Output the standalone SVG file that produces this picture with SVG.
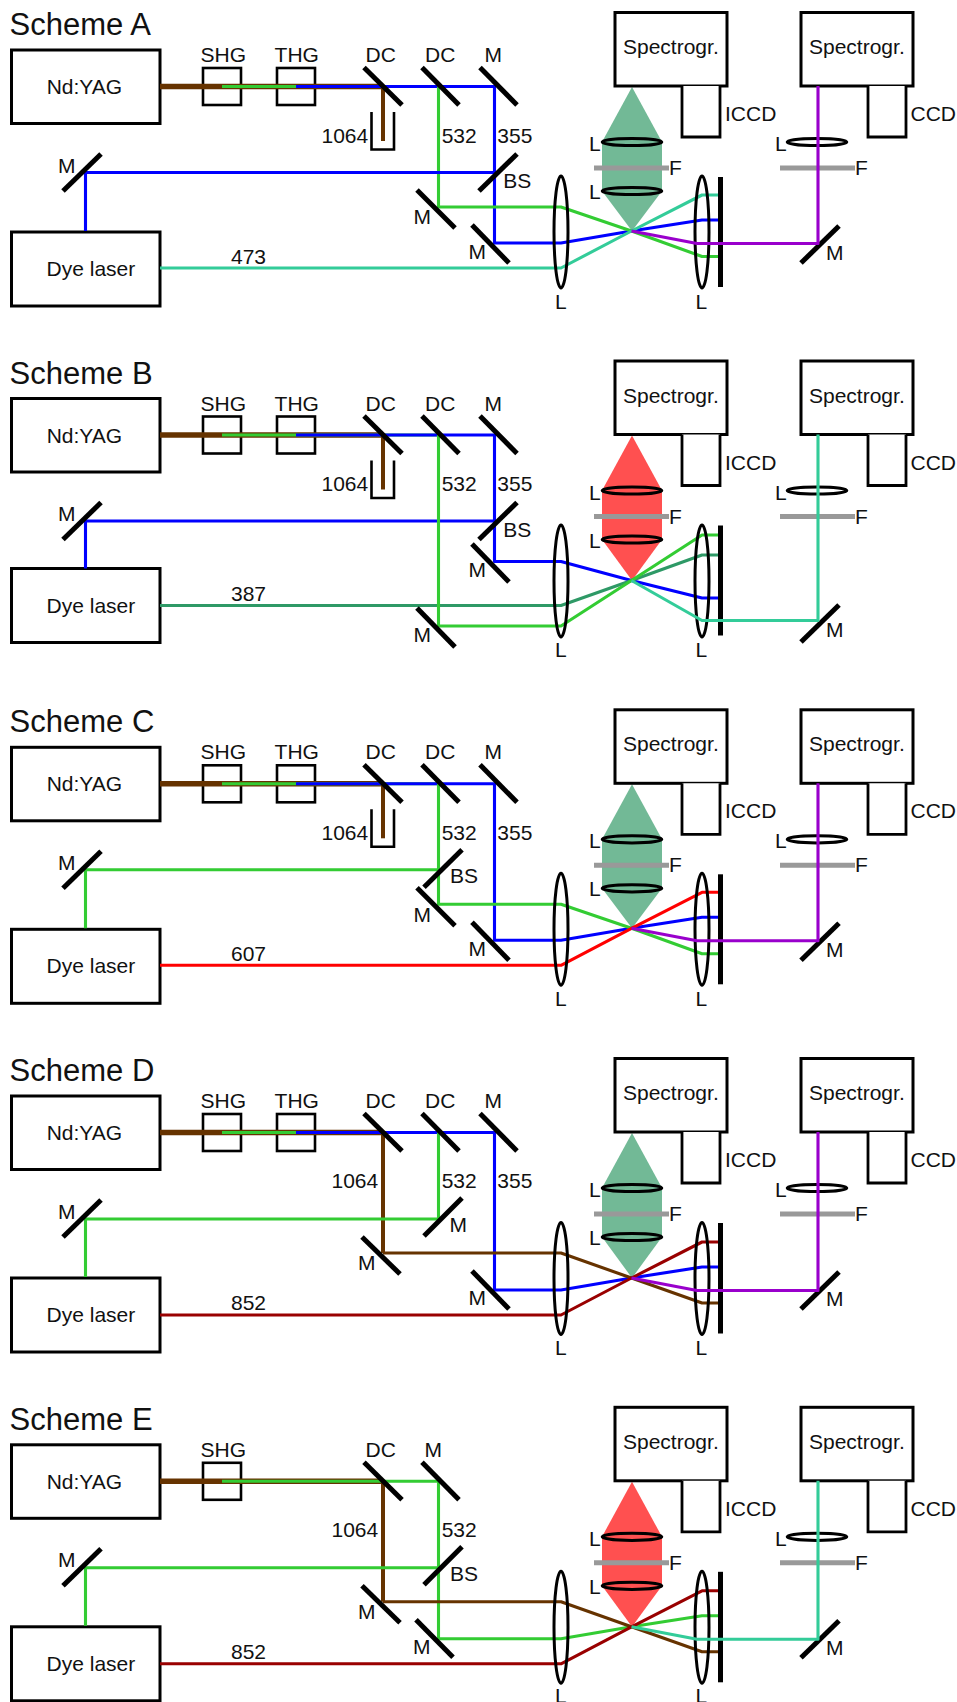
<svg xmlns="http://www.w3.org/2000/svg" width="957" height="1702" viewBox="0 0 957 1702">
<style>
text{font-family:"Liberation Sans",Arial,sans-serif;font-size:21px;fill:#111}
.title{font-size:31px}
.box{fill:#fff;stroke:#000;stroke-width:3}
.crystal{fill:#fff;stroke:#000;stroke-width:2.6}
.cam{fill:#fff;stroke:#000;stroke-width:2.8}
.mirror{stroke:#000;stroke-width:5;fill:none}
.dump{fill:none;stroke:#000;stroke-width:2.6}
.lens{fill:none;stroke:#000;stroke-width:3}
.bar{stroke:#000;stroke-width:5;fill:none}
.filter{stroke:#999;stroke-width:5;fill:none}
.beam{fill:none;stroke-width:3.1;stroke-linejoin:round}
.beam4{fill:none;stroke-width:4}
.thick{fill:none;stroke-width:5.4}
.thin{fill:none;stroke-width:3}
.br{stroke:#663300}.gr{stroke:#33cc33}.bl{stroke:#0000ff}.te{stroke:#33cc99}.dg{stroke:#2e9966}.pu{stroke:#9900cc}.re{stroke:#ff0000}.dr{stroke:#990000}
.cone-g{fill:#72b996}.cone-r{fill:#ff5050}
</style>
<rect width="957" height="1702" fill="#fff"/>

<!-- ===== Scheme A ===== -->
<g id="scheme-a">
<text class="title" x="9.600" y="35">Scheme A</text>
<g id="a-collection"><polygon class="cone-g" points="632,87 662,142 662,191 632,231 602,191 602,142"/></g>
<g id="a-yag"><rect class="box" x="11.5" y="50" width="148.5" height="73.5"/><text x="46.700" y="94">Nd:YAG</text></g>
<g id="a-dye"><rect class="box" x="11.5" y="232" width="148.5" height="74"/><text x="46.600" y="276">Dye laser</text></g>
<g id="a-shg"><rect class="crystal" x="203" y="68" width="38" height="37"/><text x="200.500" y="62">SHG</text></g>
<g id="a-thg"><rect class="crystal" x="277" y="68" width="38" height="37"/><text x="274.600" y="62">THG</text></g>
<g id="a-spec1"><rect class="box" x="615" y="12.500" width="112" height="73.500"/><text x="623" y="54">Spectrogr.</text></g>
<g id="a-spec2"><rect class="box" x="801" y="12.500" width="112" height="73.500"/><text x="809" y="54">Spectrogr.</text></g>
<g id="a-connectors">
<path class="thick br" d="M160 86.5H383"/><path class="thin gr" d="M222 86.5H438"/><path class="thin bl" d="M296 86.5H438"/>
<path class="beam4 br" d="M383 86.5V141"/>
<path class="beam bl" d="M438 86.5H494.5V243H561L631.5 231L702 220H718"/>
<path class="beam gr" d="M438.5 86.5V207H561L631.5 231L702 256.5H718"/>
<path class="beam bl" d="M85.5 231V172.5H494"/>
<path class="beam te" d="M160 268H561L631.5 231L702 195H718"/>
</g>
<g id="a-dc1"><line class="mirror" x1="364" y1="67.500" x2="402" y2="105"/><text x="365.600" y="62">DC</text></g>
<g id="a-dc2"><line class="mirror" x1="422" y1="67.500" x2="459" y2="105"/><text x="425" y="62">DC</text></g>
<g id="a-m1"><line class="mirror" x1="480" y1="67.500" x2="517" y2="105"/><text x="484.500" y="62">M</text></g>
<g id="a-dump"><path class="dump" d="M371.500 112V149.500H394V112"/><text x="321.500" y="142.500">1064</text></g>
<text x="441.700" y="142.500">532</text><text x="497.300" y="142.500">355</text><text x="231" y="264">473</text>
<g id="a-m2"><line class="mirror" x1="63" y1="191" x2="101" y2="154"/><text x="58" y="172.500">M</text></g>
<g id="a-bs"><line class="mirror" x1="479" y1="191" x2="517" y2="154"/><text x="503.300" y="188">BS</text></g>
<g id="a-m3"><line class="mirror" x1="417" y1="190" x2="455" y2="228"/><text x="413.500" y="224">M</text></g>
<g id="a-m4"><line class="mirror" x1="472" y1="225" x2="509" y2="263"/><text x="468.500" y="258.500">M</text></g>
<g id="a-lens1"><ellipse class="lens" cx="561" cy="232" rx="7" ry="56"/><text x="555" y="308.500">L</text></g>
<g id="a-lens2"><ellipse class="lens" cx="702" cy="232" rx="7" ry="56"/><text x="695.500" y="308.500">L</text></g>
<g id="a-det"><line class="bar" x1="720.500" y1="177" x2="720.500" y2="287"/></g>
<g id="a-iccd"><path class="cam" d="M682 86V137H720V86"/><text x="725" y="121">ICCD</text></g>
<g id="a-ccd"><path class="cam" d="M868 86V137H906V86"/><text x="910.500" y="121">CCD</text></g>
<g id="a-l1"><ellipse class="lens" cx="632" cy="142" rx="29.800" ry="3.600"/><text x="589" y="151">L</text></g>
<g id="a-f1"><line class="filter" x1="594" y1="168" x2="669" y2="168"/><text x="669" y="175">F</text></g>
<g id="a-l2"><ellipse class="lens" cx="632" cy="191" rx="29.800" ry="3.600"/><text x="589" y="199">L</text></g>
<g id="a-l3"><ellipse class="lens" cx="817" cy="142" rx="29.800" ry="3.600"/><text x="775" y="151">L</text></g>
<g id="a-f2"><line class="filter" x1="780" y1="168" x2="855" y2="168"/><text x="855" y="175">F</text></g>
<g id="a-m5"><line class="mirror" x1="801" y1="263" x2="839" y2="226"/><text x="826" y="260">M</text></g>
<path id="a-ref" class="beam pu" d="M631.500 231L697 243.500H818V86"/>
</g>

<!-- ===== Scheme B ===== -->
<g id="scheme-b" transform="translate(0,348.5)">
<text class="title" x="9.600" y="35">Scheme B</text>
<g id="b-collection"><polygon class="cone-r" points="632,87 662,142 662,191 632,232 602,191 602,142"/></g>
<g id="b-yag"><rect class="box" x="11.5" y="50" width="148.5" height="73.5"/><text x="46.700" y="94">Nd:YAG</text></g>
<g id="b-dye"><rect class="box" x="11.5" y="220" width="148.5" height="74"/><text x="46.600" y="264.500">Dye laser</text></g>
<g id="b-shg"><rect class="crystal" x="203" y="68" width="38" height="37"/><text x="200.500" y="62">SHG</text></g>
<g id="b-thg"><rect class="crystal" x="277" y="68" width="38" height="37"/><text x="274.600" y="62">THG</text></g>
<g id="b-spec1"><rect class="box" x="615" y="12.500" width="112" height="73.500"/><text x="623" y="54">Spectrogr.</text></g>
<g id="b-spec2"><rect class="box" x="801" y="12.500" width="112" height="73.500"/><text x="809" y="54">Spectrogr.</text></g>
<g id="b-connectors">
<path class="thick br" d="M160 86.5H383"/><path class="thin gr" d="M222 86.5H438"/><path class="thin bl" d="M296 86.5H438"/>
<path class="beam4 br" d="M383 86.5V141"/>
<path class="beam bl" d="M438 86.5H494.5V213H561L631.5 232L702 249.5H718"/>
<path class="beam bl" d="M85.5 220V172.5H494"/>
<path class="beam dg" d="M160 257H561L631.5 232L702 206.500H718"/>
<path class="beam gr" d="M438.5 86.5V277.500H561L631.5 232L702 186.500H718"/>
</g>
<g id="b-dc1"><line class="mirror" x1="364" y1="67.500" x2="402" y2="105"/><text x="365.600" y="62">DC</text></g>
<g id="b-dc2"><line class="mirror" x1="422" y1="67.500" x2="459" y2="105"/><text x="425" y="62">DC</text></g>
<g id="b-m1"><line class="mirror" x1="480" y1="67.500" x2="517" y2="105"/><text x="484.500" y="62">M</text></g>
<g id="b-dump"><path class="dump" d="M371.500 112V149.500H394V112"/><text x="321.500" y="142.500">1064</text></g>
<text x="441.700" y="142.500">532</text><text x="497.300" y="142.500">355</text><text x="231" y="252">387</text>
<g id="b-m2"><line class="mirror" x1="63" y1="191" x2="101" y2="154"/><text x="58" y="172.500">M</text></g>
<g id="b-bs"><line class="mirror" x1="479" y1="191" x2="517" y2="154"/><text x="503.300" y="188">BS</text></g>
<g id="b-m3"><line class="mirror" x1="417" y1="259.500" x2="455" y2="298.500"/><text x="413.500" y="293.500">M</text></g>
<g id="b-m4"><line class="mirror" x1="472" y1="195.500" x2="509" y2="233.500"/><text x="468.500" y="228.500">M</text></g>
<g id="b-lens1"><ellipse class="lens" cx="561" cy="232.500" rx="7" ry="56"/><text x="555" y="308.500">L</text></g>
<g id="b-lens2"><ellipse class="lens" cx="702" cy="232.500" rx="7" ry="56"/><text x="695.500" y="308.500">L</text></g>
<g id="b-det"><line class="bar" x1="720.500" y1="177" x2="720.500" y2="287"/></g>
<g id="b-iccd"><path class="cam" d="M682 86V137H720V86"/><text x="725" y="121">ICCD</text></g>
<g id="b-ccd"><path class="cam" d="M868 86V137H906V86"/><text x="910.500" y="121">CCD</text></g>
<g id="b-l1"><ellipse class="lens" cx="632" cy="142" rx="29.800" ry="3.600"/><text x="589" y="151">L</text></g>
<g id="b-f1"><line class="filter" x1="594" y1="168" x2="669" y2="168"/><text x="669" y="175">F</text></g>
<g id="b-l2"><ellipse class="lens" cx="632" cy="191" rx="29.800" ry="3.600"/><text x="589" y="199">L</text></g>
<g id="b-l3"><ellipse class="lens" cx="817" cy="142" rx="29.800" ry="3.600"/><text x="775" y="151">L</text></g>
<g id="b-f2"><line class="filter" x1="780" y1="168" x2="855" y2="168"/><text x="855" y="175">F</text></g>
<g id="b-m5"><line class="mirror" x1="801" y1="293.500" x2="839" y2="256.500"/><text x="826" y="288.500">M</text></g>
<path id="b-ref" class="beam te" d="M631.500 232L702 272H705H818V86"/>
</g>

<!-- ===== Scheme C ===== -->
<g id="scheme-c" transform="translate(0,697.3)">
<text class="title" x="9.600" y="35">Scheme C</text>
<g id="c-collection"><polygon class="cone-g" points="632,87 662,142 662,191 632,231 602,191 602,142"/></g>
<g id="c-yag"><rect class="box" x="11.5" y="50" width="148.5" height="73.5"/><text x="46.700" y="94">Nd:YAG</text></g>
<g id="c-dye"><rect class="box" x="11.5" y="232" width="148.5" height="74"/><text x="46.600" y="276">Dye laser</text></g>
<g id="c-shg"><rect class="crystal" x="203" y="68" width="38" height="37"/><text x="200.500" y="62">SHG</text></g>
<g id="c-thg"><rect class="crystal" x="277" y="68" width="38" height="37"/><text x="274.600" y="62">THG</text></g>
<g id="c-spec1"><rect class="box" x="615" y="12.500" width="112" height="73.500"/><text x="623" y="54">Spectrogr.</text></g>
<g id="c-spec2"><rect class="box" x="801" y="12.500" width="112" height="73.500"/><text x="809" y="54">Spectrogr.</text></g>
<g id="c-connectors">
<path class="thick br" d="M160 86.5H383"/><path class="thin gr" d="M222 86.5H438"/><path class="thin bl" d="M296 86.5H438"/>
<path class="beam4 br" d="M383 86.5V141"/>
<path class="beam bl" d="M438 86.5H494.5V243H561L631.5 231L702 220H718"/>
<path class="beam gr" d="M438.5 86.5V207H561L631.5 231L702 256.5H718"/>
<path class="beam gr" d="M85.5 231V172.5H438"/>
<path class="beam re" d="M160 268H561L631.5 231L702 195H718"/>
</g>
<g id="c-dc1"><line class="mirror" x1="364" y1="67.500" x2="402" y2="105"/><text x="365.600" y="62">DC</text></g>
<g id="c-dc2"><line class="mirror" x1="422" y1="67.500" x2="459" y2="105"/><text x="425" y="62">DC</text></g>
<g id="c-m1"><line class="mirror" x1="480" y1="67.500" x2="517" y2="105"/><text x="484.500" y="62">M</text></g>
<g id="c-dump"><path class="dump" d="M371.500 112V149.500H394V112"/><text x="321.500" y="142.500">1064</text></g>
<text x="441.700" y="142.500">532</text><text x="497.300" y="142.500">355</text><text x="231" y="264">607</text>
<g id="c-m2"><line class="mirror" x1="63" y1="191" x2="101" y2="154"/><text x="58" y="172.500">M</text></g>
<g id="c-bs"><line class="mirror" x1="424" y1="190" x2="462" y2="152.500"/><text x="450" y="186">BS</text></g>
<g id="c-m3"><line class="mirror" x1="417" y1="190.500" x2="455" y2="228.500"/><text x="413.500" y="224.500">M</text></g>
<g id="c-m4"><line class="mirror" x1="472" y1="225" x2="509" y2="263"/><text x="468.500" y="258.500">M</text></g>
<g id="c-lens1"><ellipse class="lens" cx="561" cy="232" rx="7" ry="56"/><text x="555" y="308.500">L</text></g>
<g id="c-lens2"><ellipse class="lens" cx="702" cy="232" rx="7" ry="56"/><text x="695.500" y="308.500">L</text></g>
<g id="c-det"><line class="bar" x1="720.500" y1="177" x2="720.500" y2="287"/></g>
<g id="c-iccd"><path class="cam" d="M682 86V137H720V86"/><text x="725" y="121">ICCD</text></g>
<g id="c-ccd"><path class="cam" d="M868 86V137H906V86"/><text x="910.500" y="121">CCD</text></g>
<g id="c-l1"><ellipse class="lens" cx="632" cy="142" rx="29.800" ry="3.600"/><text x="589" y="151">L</text></g>
<g id="c-f1"><line class="filter" x1="594" y1="168" x2="669" y2="168"/><text x="669" y="175">F</text></g>
<g id="c-l2"><ellipse class="lens" cx="632" cy="191" rx="29.800" ry="3.600"/><text x="589" y="199">L</text></g>
<g id="c-l3"><ellipse class="lens" cx="817" cy="142" rx="29.800" ry="3.600"/><text x="775" y="151">L</text></g>
<g id="c-f2"><line class="filter" x1="780" y1="168" x2="855" y2="168"/><text x="855" y="175">F</text></g>
<g id="c-m5"><line class="mirror" x1="801" y1="263" x2="839" y2="226"/><text x="826" y="260">M</text></g>
<path id="c-ref" class="beam pu" d="M631.500 231L697 243.500H818V86"/>
</g>

<!-- ===== Scheme D ===== -->
<g id="scheme-d" transform="translate(0,1046)">
<text class="title" x="9.600" y="35">Scheme D</text>
<g id="d-collection"><polygon class="cone-g" points="632,87 662,142 662,191 632,232 602,191 602,142"/></g>
<g id="d-yag"><rect class="box" x="11.5" y="50" width="148.5" height="73.5"/><text x="46.700" y="94">Nd:YAG</text></g>
<g id="d-dye"><rect class="box" x="11.5" y="232" width="148.5" height="74"/><text x="46.600" y="276">Dye laser</text></g>
<g id="d-shg"><rect class="crystal" x="203" y="68" width="38" height="37"/><text x="200.500" y="62">SHG</text></g>
<g id="d-thg"><rect class="crystal" x="277" y="68" width="38" height="37"/><text x="274.600" y="62">THG</text></g>
<g id="d-spec1"><rect class="box" x="615" y="12.500" width="112" height="73.500"/><text x="623" y="54">Spectrogr.</text></g>
<g id="d-spec2"><rect class="box" x="801" y="12.500" width="112" height="73.500"/><text x="809" y="54">Spectrogr.</text></g>
<g id="d-connectors">
<path class="thick br" d="M160 86.5H383"/><path class="thin gr" d="M222 86.5H438"/><path class="thin bl" d="M296 86.5H438"/>
<path class="beam bl" d="M438 86.5H494.5V244H561L631.5 232L702 221H718"/>
<path class="beam4 br" d="M383 86.5V207"/>
<path class="beam gr" d="M438.5 86.5V173H85.5V231"/>
<path class="beam br" d="M383 207H561L631.5 232L702 257H718"/>
<path class="beam dr" d="M160 269H561L631.5 232L702 196H718"/>
</g>
<g id="d-dc1"><line class="mirror" x1="364" y1="67.500" x2="402" y2="105"/><text x="365.600" y="62">DC</text></g>
<g id="d-dc2"><line class="mirror" x1="422" y1="67.500" x2="459" y2="105"/><text x="425" y="62">DC</text></g>
<g id="d-m1"><line class="mirror" x1="480" y1="67.500" x2="517" y2="105"/><text x="484.500" y="62">M</text></g>
<text x="331.500" y="142">1064</text><text x="441.700" y="142">532</text><text x="497.300" y="142">355</text><text x="231" y="264">852</text>
<g id="d-m2"><line class="mirror" x1="63" y1="191" x2="101" y2="154"/><text x="58" y="172.500">M</text></g>
<g id="d-m6"><line class="mirror" x1="424" y1="190" x2="462" y2="152"/><text x="449.500" y="186">M</text></g>
<g id="d-m3"><line class="mirror" x1="362" y1="191" x2="400" y2="228"/><text x="358" y="224">M</text></g>
<g id="d-m4"><line class="mirror" x1="472" y1="225" x2="509" y2="263"/><text x="468.500" y="259">M</text></g>
<g id="d-lens1"><ellipse class="lens" cx="561" cy="232.500" rx="7" ry="56"/><text x="555" y="308.500">L</text></g>
<g id="d-lens2"><ellipse class="lens" cx="702" cy="232.500" rx="7" ry="56"/><text x="695.500" y="308.500">L</text></g>
<g id="d-det"><line class="bar" x1="720.500" y1="177" x2="720.500" y2="287.500"/></g>
<g id="d-iccd"><path class="cam" d="M682 86V137H720V86"/><text x="725" y="121">ICCD</text></g>
<g id="d-ccd"><path class="cam" d="M868 86V137H906V86"/><text x="910.500" y="121">CCD</text></g>
<g id="d-l1"><ellipse class="lens" cx="632" cy="142" rx="29.800" ry="3.600"/><text x="589" y="151">L</text></g>
<g id="d-f1"><line class="filter" x1="594" y1="168" x2="669" y2="168"/><text x="669" y="175">F</text></g>
<g id="d-l2"><ellipse class="lens" cx="632" cy="191" rx="29.800" ry="3.600"/><text x="589" y="199">L</text></g>
<g id="d-l3"><ellipse class="lens" cx="817" cy="142" rx="29.800" ry="3.600"/><text x="775" y="151">L</text></g>
<g id="d-f2"><line class="filter" x1="780" y1="168" x2="855" y2="168"/><text x="855" y="175">F</text></g>
<g id="d-m5"><line class="mirror" x1="801" y1="263" x2="839" y2="226"/><text x="826" y="260">M</text></g>
<path id="d-ref" class="beam pu" d="M631.500 232L697 244.500H818V86"/>
</g>

<!-- ===== Scheme E ===== -->
<g id="scheme-e" transform="translate(0,1394.8)">
<text class="title" x="9.600" y="35">Scheme E</text>
<g id="e-collection"><polygon class="cone-r" points="632,87 662,142 662,191 632,232 602,191 602,142"/></g>
<g id="e-yag"><rect class="box" x="11.5" y="50" width="148.5" height="73.5"/><text x="46.700" y="94">Nd:YAG</text></g>
<g id="e-dye"><rect class="box" x="11.5" y="232" width="148.5" height="74"/><text x="46.600" y="276">Dye laser</text></g>
<g id="e-shg"><rect class="crystal" x="203" y="68" width="38" height="37"/><text x="200.500" y="62">SHG</text></g>
<g id="e-spec1"><rect class="box" x="615" y="12.500" width="112" height="73.500"/><text x="623" y="54">Spectrogr.</text></g>
<g id="e-spec2"><rect class="box" x="801" y="12.500" width="112" height="73.500"/><text x="809" y="54">Spectrogr.</text></g>
<g id="e-connectors">
<path class="thick br" d="M160 86.5H383"/><path class="thin gr" d="M222 86.5H383"/>
<path class="beam gr" d="M383 86.5H438.500V244H561L631.500 232L702 221H718"/>
<path class="beam4 br" d="M383 86.5V207"/>
<path class="beam gr" d="M85.5 231V173H438"/>
<path class="beam br" d="M383 207H561L631.5 232L702 257H718"/>
<path class="beam dr" d="M160 269H561L631.5 232L702 196H718"/>
</g>
<g id="e-dc1"><line class="mirror" x1="364" y1="67.500" x2="402" y2="105"/><text x="365.600" y="62">DC</text></g>
<g id="e-m1"><line class="mirror" x1="422" y1="67.500" x2="459" y2="105"/><text x="424.500" y="62">M</text></g>
<text x="331.500" y="142">1064</text><text x="441.700" y="142">532</text><text x="231" y="264">852</text>
<g id="e-m2"><line class="mirror" x1="63" y1="191" x2="101" y2="154"/><text x="58" y="172.500">M</text></g>
<g id="e-bs"><line class="mirror" x1="424" y1="190" x2="462" y2="152"/><text x="450" y="186">BS</text></g>
<g id="e-m3"><line class="mirror" x1="362" y1="191" x2="400" y2="228"/><text x="358" y="224">M</text></g>
<g id="e-m4"><line class="mirror" x1="416" y1="225" x2="453" y2="262.500"/><text x="413" y="259">M</text></g>
<g id="e-lens1"><ellipse class="lens" cx="561" cy="232.500" rx="7" ry="56"/><text x="555" y="308.500">L</text></g>
<g id="e-lens2"><ellipse class="lens" cx="702" cy="232.500" rx="7" ry="56"/><text x="695.500" y="308.500">L</text></g>
<g id="e-det"><line class="bar" x1="720.500" y1="177" x2="720.500" y2="287.500"/></g>
<g id="e-iccd"><path class="cam" d="M682 86V137H720V86"/><text x="725" y="121">ICCD</text></g>
<g id="e-ccd"><path class="cam" d="M868 86V137H906V86"/><text x="910.500" y="121">CCD</text></g>
<g id="e-l1"><ellipse class="lens" cx="632" cy="142" rx="29.800" ry="3.600"/><text x="589" y="151">L</text></g>
<g id="e-f1"><line class="filter" x1="594" y1="168" x2="669" y2="168"/><text x="669" y="175">F</text></g>
<g id="e-l2"><ellipse class="lens" cx="632" cy="191" rx="29.800" ry="3.600"/><text x="589" y="199">L</text></g>
<g id="e-l3"><ellipse class="lens" cx="817" cy="142" rx="29.800" ry="3.600"/><text x="775" y="151">L</text></g>
<g id="e-f2"><line class="filter" x1="780" y1="168" x2="855" y2="168"/><text x="855" y="175">F</text></g>
<g id="e-m5"><line class="mirror" x1="801" y1="263" x2="839" y2="226"/><text x="826" y="260">M</text></g>
<path id="e-ref" class="beam te" d="M631.500 232L697 244.500H818V86"/>
</g>
</svg>
